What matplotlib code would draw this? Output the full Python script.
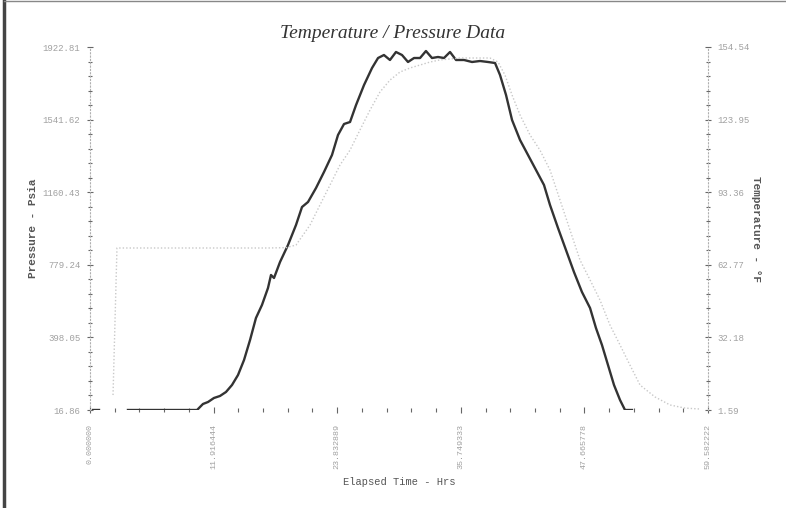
import matplotlib
matplotlib.use("Agg")
import matplotlib.pyplot as plt
from matplotlib.ticker import FixedLocator, AutoMinorLocator
from matplotlib.lines import Line2D

# ---- data ----
hours = [0.3, 0.9, 3.66, 10.32, 10.89, 11.38, 11.95, 12.53, 13.11, 13.69, 14.27, 14.85,
         15.43, 16.00, 16.58, 17.16, 17.45, 17.74, 18.32, 19.09, 19.86, 20.44,
         21.02, 21.79, 22.56, 23.33, 23.91, 24.49, 25.07, 25.65, 26.42, 27.19,
         27.77, 28.34, 28.92, 29.50, 30.08, 30.66, 31.24, 31.82, 32.39, 32.97,
         33.55, 34.13, 34.71, 35.29, 36.06, 36.83, 37.60, 38.37, 39.05, 39.53,
         40.11, 40.69, 41.46, 42.23, 43.00, 43.77, 44.35, 45.12, 45.89, 46.66,
         47.43, 48.21, 48.78, 49.36, 49.94, 50.52, 51.10, 51.58, 52.25]
pressure = [16.86, 16.86, 16.86, 16.86, 48.4, 58.9, 79.9, 90.4, 111.4, 148.1, 200.6, 279.4,
            384.4, 499.9, 568.2, 657.4, 725.7, 710.0, 793.9, 883.2, 988.2, 1082.7,
            1109.0, 1182.5, 1266.5, 1355.7, 1460.7, 1518.5, 1529.0, 1618.3, 1723.3, 1812.5,
            1865.0, 1880.8, 1854.6, 1896.6, 1880.8, 1844.1, 1865.0, 1865.0, 1901.8, 1865.0,
            1870.3, 1865.0, 1896.6, 1854.6, 1854.6, 1844.1, 1849.3, 1844.1, 1838.8, 1775.8,
            1670.8, 1539.5, 1434.5, 1355.7, 1277.0, 1198.2, 1093.2, 972.6, 856.9, 741.4,
            636.4, 552.4, 447.4, 358.1, 253.1, 148.1, 69.4, 16.86, 16.86]
# break between first dash and main line
pressure_gap_after = 2

temp_hours = [2.22, 2.60, 5.0, 10.0, 15.0, 17.16, 18.9, 19.86, 21.21, 22.17, 23.14, 24.10,
              25.07, 26.03, 27.00, 27.96, 28.92, 29.89, 30.85, 31.82, 32.78, 33.74,
              34.71, 35.67, 36.64, 37.60, 38.56, 39.34, 40.01, 40.69, 41.46, 42.42,
              43.38, 44.35, 45.31, 46.28, 47.24, 48.21, 49.17, 50.13, 51.10, 52.06,
              53.03, 54.47, 55.92, 57.36, 58.81]
temperature = [7.9, 69.85, 69.85, 69.85, 69.85, 69.85, 70.0, 71.1, 79.5, 87.97, 96.4, 104.8,
               111.1, 119.6, 128.0, 135.6, 140.6, 144.0, 145.7, 146.95, 148.2, 149.1,
               149.5, 149.9, 149.9, 149.9, 149.9, 148.2, 142.7, 134.3, 125.9, 117.5,
               111.1, 102.7, 90.1, 77.4, 64.8, 56.4, 47.9, 37.4, 29.0, 20.5,
               12.1, 7.1, 3.7, 2.4, 2.0]

x_ticks = [0.0, 11.916444, 23.832889, 35.749333, 47.665778, 59.582222]
x_labels = ["0.000000", "11.916444", "23.832889", "35.749333", "47.665778", "59.582222"]
p_ticks = [16.86, 398.05, 779.24, 1160.43, 1541.62, 1922.81]
p_labels = ["16.86", "398.05", "779.24", "1160.43", "1541.62", "1922.81"]
t_ticks = [1.59, 32.18, 62.77, 93.36, 123.95, 154.54]
t_labels = ["1.59", "32.18", "62.77", "93.36", "123.95", "154.54"]

# ---- figure ----
fig = plt.figure(figsize=(7.86, 5.08), dpi=100)
ax = fig.add_axes([90/786, 98/508, 618/786, 363/508])
ax2 = ax.twinx()

mono = "Liberation Mono"
tick_col = "#a0a0a0"

ax.plot(hours[:pressure_gap_after], pressure[:pressure_gap_after], color="#333333", lw=1.7)
ax.plot(hours[pressure_gap_after:], pressure[pressure_gap_after:], color="#333333", lw=1.7)
ax2.plot(temp_hours, temperature, color="#c8c8c8", lw=1.0, ls=(0, (1, 1.5)))

ax.set_xlim(x_ticks[0], x_ticks[-1])
ax.set_ylim(p_ticks[0], p_ticks[-1])
ax2.set_ylim(t_ticks[0], t_ticks[-1])

for a in (ax, ax2):
    for s in ("top", "bottom"):
        a.spines[s].set_visible(False)
ax.spines["right"].set_visible(False)
ax2.spines["left"].set_visible(False)
ax.spines["left"].set_linestyle((0, (1, 2)))
ax.spines["left"].set_color("#b0b0b0")
ax2.spines["right"].set_linestyle((0, (1, 2)))
ax2.spines["right"].set_color("#b0b0b0")

ax.xaxis.set_major_locator(FixedLocator(x_ticks))
ax.set_xticklabels(x_labels, rotation=90, fontfamily=mono, fontsize=6, color=tick_col)
ax.xaxis.set_minor_locator(AutoMinorLocator(5))
ax.yaxis.set_major_locator(FixedLocator(p_ticks))
ax.set_yticklabels(p_labels, fontfamily=mono, fontsize=6.5, color=tick_col)
ax.yaxis.set_minor_locator(AutoMinorLocator(5))
ax2.yaxis.set_major_locator(FixedLocator(t_ticks))
ax2.set_yticklabels(t_labels, fontfamily=mono, fontsize=6.5, color=tick_col)
ax2.yaxis.set_minor_locator(AutoMinorLocator(5))

ax.tick_params(axis="both", which="both", direction="inout", color="#666666", width=0.8)
ax.tick_params(axis="both", which="major", length=4, pad=5)
ax.tick_params(axis="both", which="minor", length=3)
ax.tick_params(axis="x", which="major", pad=8)
ax2.tick_params(axis="y", which="both", direction="inout", color="#666666", width=0.8)
ax2.tick_params(axis="y", which="major", length=4, pad=5)
ax2.tick_params(axis="y", which="minor", length=3)

ax.set_ylabel("Pressure - Psia", fontfamily=mono, fontsize=8, fontweight="bold",
              color="#555555", labelpad=3)
ax2.set_ylabel("Temperature - °F", fontfamily=mono, fontsize=8, fontweight="bold",
               color="#555555", rotation=-90, labelpad=8)
ax.set_xlabel("Elapsed Time - Hrs", fontfamily=mono, fontsize=7.5, color="#555555",
              labelpad=6)

fig.text(0.5, 1 - 33/508, "Temperature / Pressure Data", ha="center", va="center",
         fontfamily="Liberation Serif", fontstyle="italic", fontsize=14, color="#333333")

# scan page edges
fig.add_artist(Line2D([4/786, 4/786], [0.0, 1.0], transform=fig.transFigure,
                      color="#444444", lw=2.5))
fig.add_artist(Line2D([4/786, 1.0], [1 - 1/508, 1 - 1/508], transform=fig.transFigure,
                      color="#888888", lw=1.0))

fig.savefig("out.png", dpi=100)
